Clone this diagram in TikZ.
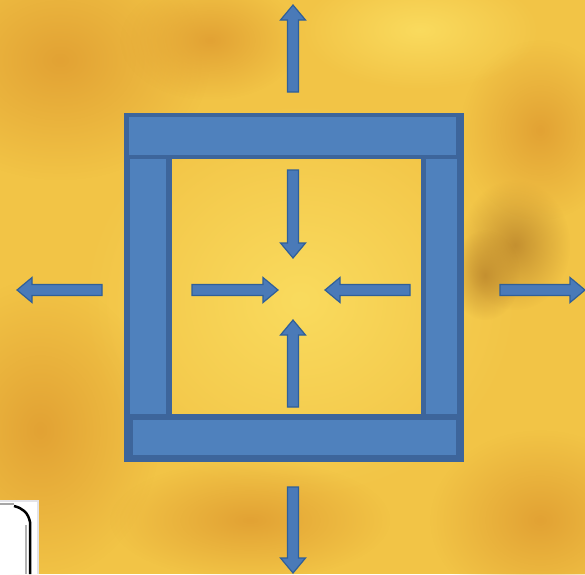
\documentclass[tikz,border=0pt]{standalone}
\usetikzlibrary{fadings}
\tikzfading[name=softblob, inner color=transparent!0, outer color=transparent!100]
\definecolor{bgbase}{HTML}{F2C446}
\definecolor{bgorange}{HTML}{E2A234}
\definecolor{bgdark}{HTML}{C49030}
\definecolor{bglight}{HTML}{FADB5E}
\definecolor{barfill}{HTML}{4F81BD}
\definecolor{barline}{HTML}{3D659B}
\definecolor{arrfill}{HTML}{4A7AB8}
\definecolor{arrline}{HTML}{2F5F99}
\tikzset{
  barshadow/.style={fill=barline},
  barface/.style={fill=barfill},
  arr/.style={fill=arrfill, draw=arrline, line width=1.2pt, line join=miter},
  blob/.style={fill=#1, path fading=softblob}
}
\newcommand{\blockarrow}[4]{%
  \begin{scope}[shift={(#1,#2)},rotate=#3]
    \filldraw[arr] (0,-5.5) -- (#4-15,-5.5) -- (#4-15,-12.5) -- (#4,0) -- (#4-15,12.5) -- (#4-15,5.5) -- (0,5.5) -- cycle;
  \end{scope}}
\begin{document}
\begin{tikzpicture}[x=1pt,y=-1pt]
  \useasboundingbox (0,0) rectangle (585,574);
  % background texture
  \fill[bgbase] (0,0) rectangle (585,574);
  \begin{scope}
    \clip (0,0) rectangle (585,574);
    \fill[blob=bglight] (300,300) ellipse (220 and 200);
    \fill[blob=bgorange] (60,60) ellipse (150 and 120);
    \fill[blob=bgorange] (210,40) ellipse (90 and 60);
    \fill[blob=bgorange] (40,430) ellipse (120 and 150);
    \fill[blob=bgdark] (515,245) ellipse (55 and 65);
    \fill[blob=bgdark] (485,275) ellipse (35 and 45);
    \fill[blob=bgorange] (540,130) ellipse (80 and 90);
    \fill[blob=bgorange] (540,520) ellipse (110 and 90);
    \fill[blob=bgorange] (250,520) ellipse (140 and 60);
    \fill[blob=bglight] (420,30) ellipse (120 and 60);
  \end{scope}
  % frame: dark shadows
  \fill[barshadow] (124,113) rectangle (464,159);
  \fill[barshadow] (124,155) rectangle (172,418);
  \fill[barshadow] (421,155) rectangle (464,418);
  \fill[barshadow] (124,414) rectangle (464,462);
  % frame: faces
  \fill[barface] (129,117) rectangle (456,155);
  \fill[barface] (130,159) rectangle (166,414);
  \fill[barface] (426,159) rectangle (457,414);
  \fill[barface] (133,420) rectangle (456,455);
  % outer arrows
  \blockarrow{293}{92}{90}{87}
  \blockarrow{102}{290}{180}{85}
  \blockarrow{500}{290}{0}{85}
  \blockarrow{293}{487}{270}{86}
  % inner arrows
  \blockarrow{293}{170}{270}{88}
  \blockarrow{192}{290}{0}{86}
  \blockarrow{410}{290}{180}{85}
  \blockarrow{293}{407}{90}{87}
  % corner icon fragment
  \fill[white] (0,500) rectangle (38,574);
  \draw[color=blue!10!gray!20, line width=2pt] (0,501) -- (38,501) -- (38,574);
  \draw[gray!70, line width=2pt] (0,504) -- (14,504);
  \draw[black, line width=2.5pt] (14,506) .. controls (22,508) and (28,512) .. (30,522) -- (30,574);
  \draw[gray!60, line width=2pt] (26,525) -- (26,574);
\end{tikzpicture}
\end{document}
